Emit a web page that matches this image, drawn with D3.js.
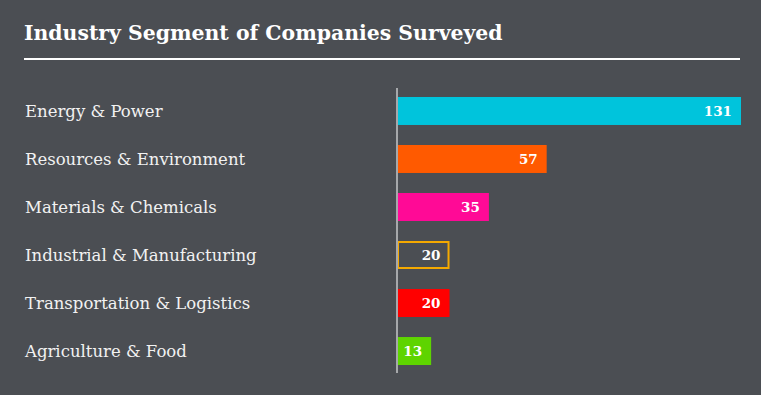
<!DOCTYPE html>
<html>
<head>
<meta charset="utf-8">
<script src="https://cdnjs.cloudflare.com/ajax/libs/d3/7.8.5/d3.min.js"></script>
<style>
  body { margin: 0; background: #4b4e53; }
  svg { display: block; }
  .title { font-family: "DejaVu Serif", serif; font-weight: bold; font-size: 20.4px; fill: #fff; }
  .cat { font-family: "DejaVu Serif", serif; font-size: 16.5px; fill: #f2f2f2; }
  .val { font-family: "DejaVu Serif", serif; font-weight: bold; font-size: 13.5px; fill: #fff; }
</style>
</head>
<body>
<script>
var width = 761;
var height = 395;

var categories = ['Energy & Power', 'Resources & Environment', 'Materials & Chemicals',
  'Industrial & Manufacturing', 'Transportation & Logistics', 'Agriculture & Food'];
var counts = [131, 57, 35, 20, 20, 13];
var colors = ['#00c4dc', '#ff5a00', '#ff0a96', 'none', '#ff0000', '#5ed400'];
var outlines = ['none', 'none', 'none', '#f5a900', 'none', 'none'];

var data = categories.map(function (c, i) {
  return { name: c, value: counts[i], fill: colors[i], stroke: outlines[i] };
});

var svg = d3.select('body').append('svg')
  .attr('width', width)
  .attr('height', height);

svg.append('rect')
  .attr('width', width)
  .attr('height', height)
  .attr('fill', '#4b4e53');

svg.append('text')
  .attr('class', 'title')
  .attr('x', 24)
  .attr('y', 40)
  .text('Industry Segment of Companies Surveyed');

svg.append('line')
  .attr('x1', 24).attr('x2', 740)
  .attr('y1', 59).attr('y2', 59)
  .attr('stroke', '#fff')
  .attr('stroke-width', 2);

var x0 = 397;
var x = d3.scaleLinear().domain([0, 131]).range([x0, 741]);
var y = d3.scaleBand().domain(categories).range([87, 375])
  .paddingInner(0.417).paddingOuter(0.208);

svg.selectAll('.cat')
  .data(data)
  .enter().append('text')
  .attr('class', 'cat')
  .attr('x', 25)
  .attr('y', function (d) { return y(d.name) + y.bandwidth() / 2; })
  .attr('dy', '0.35em')
  .text(function (d) { return d.name; });

svg.selectAll('.bar')
  .data(data)
  .enter().append('rect')
  .attr('class', 'bar')
  .attr('x', function (d) { return d.stroke === 'none' ? x0 : x0 + 1; })
  .attr('y', function (d) { return d.stroke === 'none' ? y(d.name) : y(d.name) + 1; })
  .attr('width', function (d) { return d.stroke === 'none' ? x(d.value) - x0 : x(d.value) - x0 - 2; })
  .attr('height', function (d) { return d.stroke === 'none' ? y.bandwidth() : y.bandwidth() - 2; })
  .attr('fill', function (d) { return d.fill; })
  .attr('stroke', function (d) { return d.stroke; })
  .attr('stroke-width', 2);

svg.selectAll('.val')
  .data(data)
  .enter().append('text')
  .attr('class', 'val')
  .attr('x', function (d) { return x(d.value) - 9; })
  .attr('y', function (d) { return y(d.name) + y.bandwidth() / 2; })
  .attr('dy', '0.36em')
  .attr('text-anchor', 'end')
  .text(function (d) { return d.value; });

// axis line
svg.append('line')
  .attr('x1', x0).attr('x2', x0)
  .attr('y1', 88).attr('y2', 373)
  .attr('stroke', '#a6a8ab')
  .attr('stroke-width', 2);
</script>
</body>
</html>
